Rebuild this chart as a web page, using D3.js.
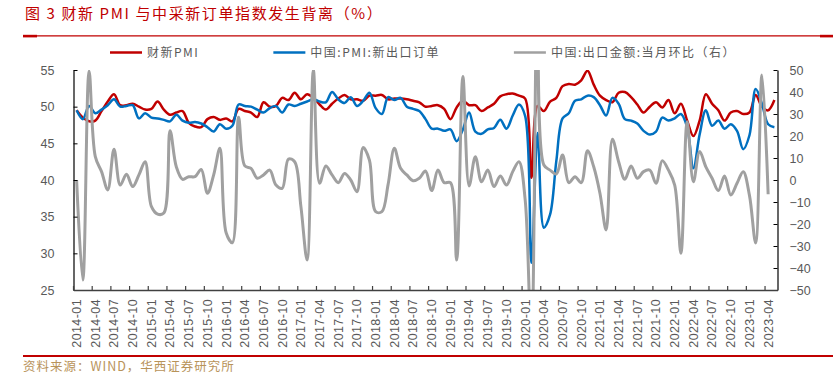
<!DOCTYPE html>
<html lang="zh-CN">
<head>
<meta charset="UTF-8">
<title>财新PMI与中采新订单指数发生背离</title>
<script src="https://d3js.org/d3.v7.min.js"></script>
<style>
  body { margin: 0; background: #fff; }
  svg { display: block; }
  .cjk { font-family: "Noto Sans CJK SC", sans-serif; }
  .axis text { font-family: "Liberation Sans", Arial, sans-serif; fill: #595959; }
</style>
</head>
<body>
<svg id="chart" width="833" height="380"></svg>
<script>
  // ---- data (monthly, 2014-01 .. 2023-05) ----
  const months = d3.timeMonth.range(new Date(2014, 0, 1), new Date(2023, 5, 1))
    .map(d3.timeFormat("%Y-%m"));

  // 财新PMI
  const caixinPMI = [
    49.5, 48.5, 48.0, 48.1, 49.4, 50.7, 51.7, 50.2, 50.2, 50.4, 50.0, 49.6,
    49.7, 50.7, 49.6, 48.9, 49.2, 49.4, 47.8, 47.3, 47.2, 48.3, 48.6, 48.2,
    48.4, 48.0, 49.7, 49.4, 49.2, 48.6, 50.6, 50.0, 50.1, 51.2, 50.9, 51.9,
    51.0, 51.7, 51.2, 50.3, 49.6, 50.4, 51.1, 51.6, 51.0, 51.0, 50.8, 51.5,
    51.5, 51.6, 51.0, 51.1, 51.1, 51.0, 50.8, 50.6, 50.0, 50.1, 50.2, 49.7,
    48.3, 49.9, 50.8, 50.2, 50.2, 49.4, 49.9, 50.4, 51.4, 51.7, 51.8, 51.5,
    51.1, 40.3, 50.1, 49.4, 50.7, 51.2, 52.8, 53.1, 53.0, 53.6, 54.9, 53.0,
    51.5, 50.9, 50.6, 51.9, 52.0, 51.3, 50.3, 49.2, 50.0, 50.6, 49.9, 50.9,
    49.1, 50.4, 48.1, 46.0, 48.1, 51.7, 50.4, 49.5, 48.1, 49.2, 49.4, 49.0,
    49.2, 51.6, 50.0, 49.5, 50.9
  ];

  // 中国:PMI:新出口订单
  const exportOrders = [
    49.5, 48.3, 50.1, 49.1, 49.6, 50.2, 51.0, 50.0, 50.1, 50.2, 48.4, 49.1,
    48.5, 48.4, 48.2, 48.0, 48.9, 48.1, 47.8, 47.9, 47.7, 47.2, 46.6, 47.6,
    47.0, 47.4, 50.3, 50.1, 50.0, 49.6, 49.2, 49.8, 50.1, 49.2, 50.3, 50.1,
    50.4, 50.7, 51.0, 50.7, 50.6, 52.0, 51.0, 50.5, 51.3, 50.1, 50.8, 51.9,
    49.8, 49.0, 51.3, 50.9, 51.2, 50.0, 49.7, 49.4, 48.3, 47.0, 47.0, 46.7,
    46.9, 45.3, 46.9, 49.2, 46.6, 46.3, 46.9, 47.1, 48.2, 47.0, 48.8, 50.3,
    48.7, 28.7, 46.4, 33.5, 35.3, 42.6, 48.4, 49.1, 50.8, 51.0, 51.5, 51.3,
    50.2, 48.8, 51.2, 50.4, 48.3, 48.1, 47.7, 46.7, 46.2, 46.6, 48.5, 48.1,
    48.4, 49.0, 47.2, 41.6, 46.2, 49.5, 47.4, 48.1, 47.0, 47.6, 46.7, 44.2,
    46.1, 52.4, 50.4, 47.6, 47.2
  ];

  // 中国:出口金额:当月环比（右轴），到 2023-04
  const exportMoM = [
    0.0, -45.5, 49.5, 10.6, 3.8, -4.5, 14.0, -2.3, 2.6, -3.0, 2.3, 8.3,
    -12.0, -15.5, -15.0, 22.4, 6.0, 0.3, 1.5, 1.5, 4.8, -6.0, 2.3, 14.4,
    -24.0, -28.5, 28.5, 6.4, 5.3, 0.8, 2.3, 4.5, -2.3, -3.8, 9.5, 8.3,
    -12.0, -36.4, 50.0, -1.5, 6.4, 2.3, -1.2, 3.0, 0.0, -5.3, 14.8, 9.0,
    -14.4, -14.4, -2.0, 14.4, 5.3, 2.3, -0.3, 0.8, 4.1, -4.8, 4.5, -1.2,
    -1.2, -36.4, 47.0, -2.7, 10.6, -0.8, 4.5, -3.0, 1.8, -2.3, 3.8, 8.3,
    -9.0, -75.0, 90.0, 6.8, 4.5, 2.7, 11.4, -1.2, 1.5, -1.2, 13.3, 6.0,
    -6.0, -22.7, 18.5, 8.3, 0.3, 6.4, 0.8, 3.8, 4.5, -1.5, 8.8, 4.5,
    -2.3, -33.3, 26.5, -0.8, 12.9, 6.0, 0.8, -4.8, 1.8, -6.8, -1.5, 3.8,
    -7.0, -28.6, 47.7, -6.5
  ];

  const leftTicks = [25, 30, 35, 40, 45, 50, 55];
  const rightTicks = [-50, -40, -30, -20, -10, 0, 10, 20, 30, 40, 50];
  const tickMonths = months.filter((m, i) => i % 3 === 0);
  const seriesNames = ["财新PMI", "中国:PMI:新出口订单", "中国:出口金额:当月环比（右）"];
  const seriesColors = ["#C00000", "#0070C0", "#A0A0A0"];

  // ---- setup ----
  const svg = d3.select("#chart");
  const plot = { left: 73.5, right: 777.5, top: 70, bottom: 290 };

  const x = d3.scaleBand().domain(months).range([plot.left, plot.right]);
  const cx = m => x(m) + x.bandwidth() / 2;
  const yL = d3.scaleLinear().domain([25, 55]).range([plot.bottom, plot.top]);
  const yR = d3.scaleLinear().domain([-50, 50]).range([plot.bottom, plot.top]);

  // title + rules
  svg.append("text").attr("class", "cjk")
    .attr("x", 25).attr("y", 19)
    .attr("font-size", 15).attr("letter-spacing", 1.6)
    .attr("fill", "#C00000")
    .text("图 3 财新 PMI 与中采新订单指数发生背离（%）");

  svg.append("line").attr("x1", 23).attr("x2", 833).attr("y1", 35.8).attr("y2", 35.8)
    .attr("stroke", "#C00000").attr("stroke-width", 1.3);
  svg.append("rect").attr("x", 23).attr("y", 34.8).attr("width", 14).attr("height", 2.6).attr("fill", "#C00000");
  svg.append("rect").attr("x", 820).attr("y", 34.8).attr("width", 13).attr("height", 2.6).attr("fill", "#C00000");
  svg.append("line").attr("x1", 23).attr("x2", 833).attr("y1", 356).attr("y2", 356)
    .attr("stroke", "#C00000").attr("stroke-width", 2);

  svg.append("text").attr("class", "cjk")
    .attr("x", 23).attr("y", 371)
    .attr("font-size", 12.5).attr("letter-spacing", 1)
    .attr("fill", "#B8935A")
    .text("资料来源：WIND，华西证券研究所");

  // legend
  const legend = svg.append("g");
  let lx = 110;
  seriesNames.forEach((name, i) => {
    legend.append("line").attr("x1", lx).attr("x2", lx + 32).attr("y1", 52.5).attr("y2", 52.5)
      .attr("stroke", seriesColors[i]).attr("stroke-width", 2.5);
    const t = legend.append("text").attr("class", "cjk")
      .attr("x", lx + 37).attr("y", 57)
      .attr("font-size", 12).attr("letter-spacing", 1.5)
      .attr("fill", "#595959").text(name);
    lx += 37 + t.node().getComputedTextLength() + 74;
  });

  // lines
  svg.append("clipPath").attr("id", "plotClip").append("rect")
    .attr("x", plot.left).attr("y", plot.top)
    .attr("width", plot.right - plot.left).attr("height", plot.bottom - plot.top);

  const curve = d3.curveCatmullRom.alpha(0.5);
  const lineL = d3.line().x((d, i) => cx(months[i])).y(d => yL(d)).curve(curve);
  const lineR = d3.line().x((d, i) => cx(months[i])).y(d => yR(d)).curve(curve);

  const lines = svg.append("g").attr("clip-path", "url(#plotClip)").attr("fill", "none");
  lines.append("path").attr("d", lineL(caixinPMI)).attr("stroke", seriesColors[0]).attr("stroke-width", 2.5);
  lines.append("path").attr("d", lineL(exportOrders)).attr("stroke", seriesColors[1]).attr("stroke-width", 2.5);
  lines.append("path").attr("d", lineR(exportMoM)).attr("stroke", seriesColors[2]).attr("stroke-width", 3);

  // axes
  const axL = svg.append("g").attr("class", "axis")
    .attr("transform", `translate(${plot.left},0)`)
    .call(d3.axisLeft(yL).tickValues(leftTicks).tickSizeInner(-4).tickSizeOuter(0).tickPadding(19));
  const axR = svg.append("g").attr("class", "axis")
    .attr("transform", `translate(${plot.right},0)`)
    .call(d3.axisRight(yR).tickValues(rightTicks).tickSizeInner(-4).tickSizeOuter(0).tickPadding(12));
  [axL, axR].forEach(g => {
    g.selectAll("text").attr("font-size", 12.5);
    g.select(".domain").attr("stroke", "#000").attr("stroke-width", 1.2);
    g.selectAll(".tick line").attr("stroke", "#000");
  });

  const axB = svg.append("g").attr("class", "axis")
    .attr("transform", `translate(0,${plot.bottom})`)
    .call(d3.axisBottom(x).tickValues(tickMonths).tickSizeInner(-4).tickSizeOuter(0));
  axB.select(".domain").attr("stroke", "#404040").attr("stroke-width", 1.6);
  axB.selectAll(".tick line").attr("stroke", "#404040").attr("stroke-width", 1.2)
    .attr("transform", `translate(${-x.bandwidth() / 2},0)`);
  axB.selectAll(".tick text")
    .attr("font-size", 12.5).attr("letter-spacing", 0.4)
    .attr("text-anchor", "end")
    .attr("transform", "rotate(-90)")
    .attr("x", -9).attr("y", 0).attr("dy", "0.35em");
</script>
</body>
</html>
